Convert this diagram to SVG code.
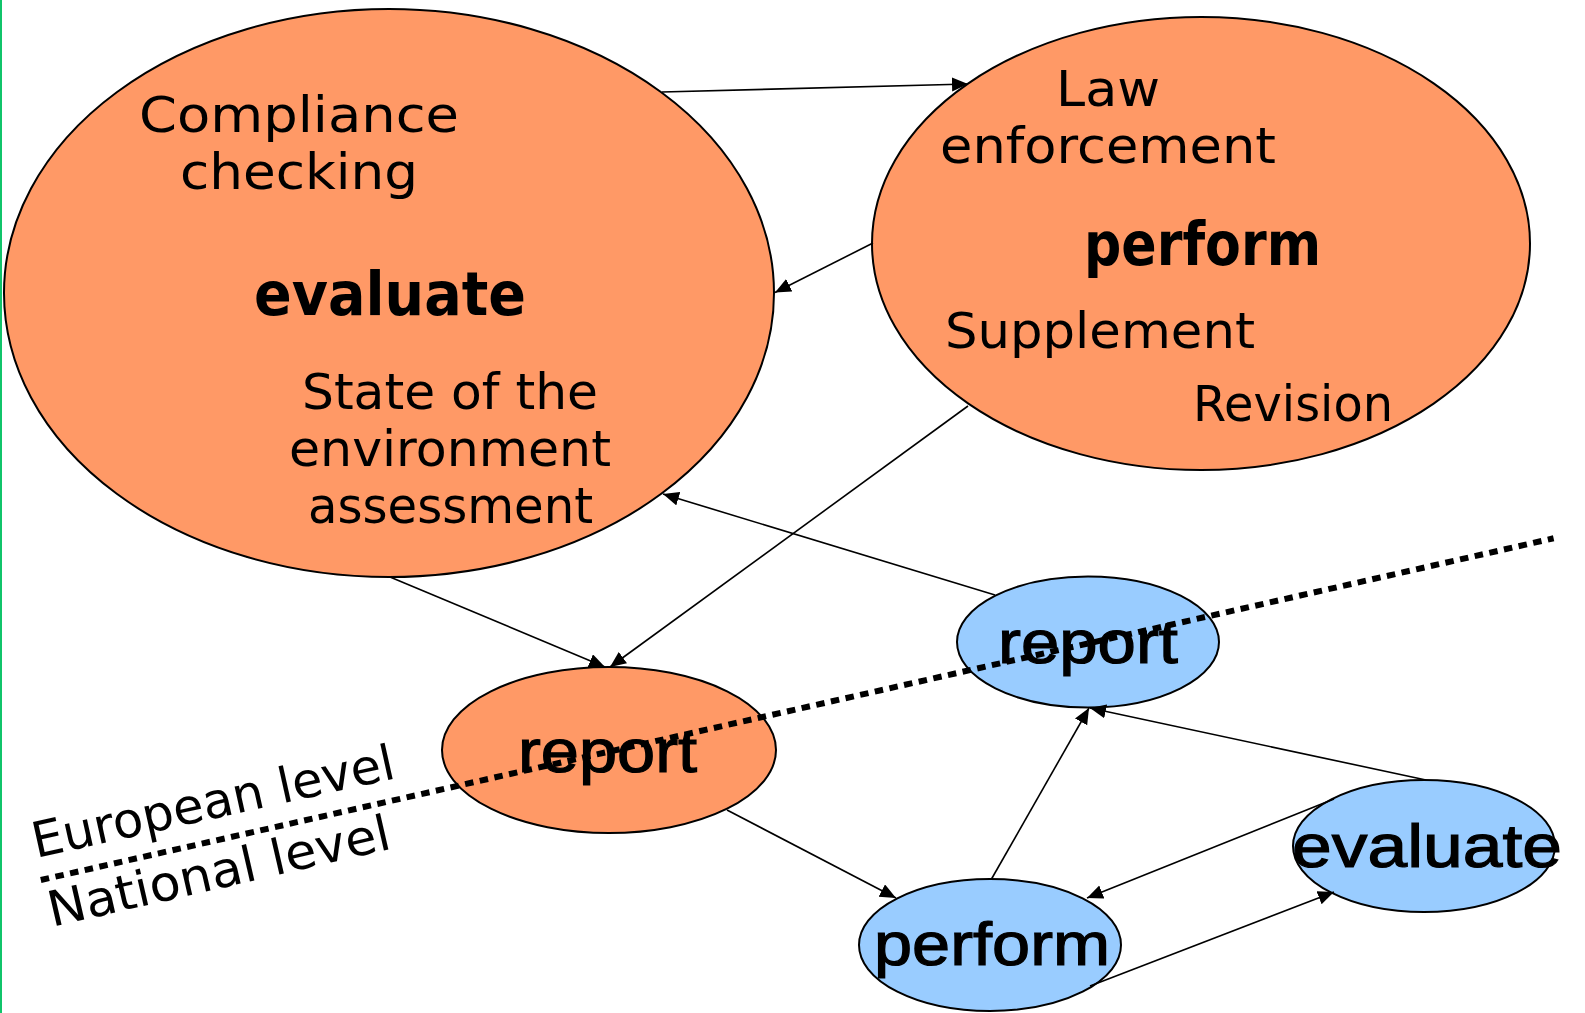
<svg xmlns="http://www.w3.org/2000/svg" width="1585" height="1013" viewBox="0 0 1585 1013">
<style>
.orange{fill:#FF9966;stroke:#000;stroke-width:2}
.blue{fill:#99CCFF;stroke:#000;stroke-width:2}
.lt{font-family:"DejaVu Sans","Liberation Sans",sans-serif;font-size:49px;fill:#000;font-weight:normal}
.bt{font-family:"DejaVu Sans","Liberation Sans",sans-serif;font-size:60px;fill:#000;font-weight:bold}
.at{font-family:"Liberation Sans",Arial,sans-serif;font-size:62px;fill:#000;stroke:#000;stroke-width:1.2}
.conn{stroke:#000;stroke-width:1.6;fill:none;marker-end:url(#ah)}
</style>
<defs>
<marker id="ah" markerUnits="userSpaceOnUse" markerWidth="18" markerHeight="15" refX="16" refY="7" orient="auto">
<path d="M0,0 L16,7 L0,14 z" fill="#000"/>
</marker>
</defs>
<rect x="0" y="0" width="1585" height="1013" fill="#fff"/>
<rect x="0" y="0" width="2" height="1013" fill="#10C46A"/>

<g id="n-evaluate-eu">
<ellipse class="orange" cx="389" cy="293" rx="385" ry="284"/>
<text class="lt" x="139" y="132" textLength="320" lengthAdjust="spacingAndGlyphs">Compliance</text>
<text class="lt" x="180" y="189" textLength="238" lengthAdjust="spacingAndGlyphs">checking</text>
<text class="bt" x="254" y="315" textLength="272" lengthAdjust="spacingAndGlyphs">evaluate</text>
<text class="lt" x="302" y="409" textLength="296" lengthAdjust="spacingAndGlyphs">State of the</text>
<text class="lt" x="289" y="466" textLength="322" lengthAdjust="spacingAndGlyphs">environment</text>
<text class="lt" x="308" y="523" textLength="285" lengthAdjust="spacingAndGlyphs">assessment</text>
</g>

<g id="n-perform-eu">
<ellipse class="orange" cx="1201" cy="243.5" rx="329" ry="226.5"/>
<text class="lt" x="1056" y="106" textLength="104" lengthAdjust="spacingAndGlyphs">Law</text>
<text class="lt" x="940" y="163" textLength="336" lengthAdjust="spacingAndGlyphs">enforcement</text>
<text class="bt" x="1084" y="265" textLength="237" lengthAdjust="spacingAndGlyphs">perform</text>
<text class="lt" x="945" y="348" textLength="310" lengthAdjust="spacingAndGlyphs">Supplement</text>
<text class="lt" x="1193" y="421" textLength="200" lengthAdjust="spacingAndGlyphs">Revision</text>
</g>

<g id="n-report-eu">
<ellipse class="orange" cx="609" cy="750" rx="167" ry="83"/>
</g>

<g id="n-report-nat">
<ellipse class="blue" cx="1088" cy="642" rx="131" ry="65.5"/>
</g>

<g id="n-evaluate-nat">
<ellipse class="blue" cx="1424" cy="846" rx="131" ry="66"/>
</g>

<g id="n-perform-nat">
<ellipse class="blue" cx="990" cy="945" rx="131" ry="66"/>
</g>

<g id="connectors">
<line class="conn" x1="662" y1="92" x2="968" y2="84"/>
<line class="conn" x1="873" y1="243" x2="775" y2="292.5"/>
<line class="conn" x1="968" y1="406" x2="610" y2="667"/>
<line class="conn" x1="390" y1="577" x2="605" y2="667"/>
<line class="conn" x1="995" y1="595" x2="663" y2="494"/>
<line class="conn" x1="727" y1="810" x2="896" y2="898"/>
<line class="conn" x1="991.5" y1="879" x2="1089" y2="708"/>
<line class="conn" x1="1426" y1="780" x2="1090" y2="708"/>
<line class="conn" x1="1334" y1="799" x2="1087" y2="898"/>
<line class="conn" x1="1090" y1="986" x2="1334" y2="892"/>
</g>

<g id="divider">
<line x1="40.8" y1="880" x2="1553.6" y2="538.3" stroke="#000" stroke-width="6" stroke-dasharray="8.5 6.5"/>
<text class="lt" x="36" y="858" textLength="370" lengthAdjust="spacingAndGlyphs" transform="rotate(-12.5 36 858)">European level</text>
<text class="lt" x="52" y="927" textLength="350" lengthAdjust="spacingAndGlyphs" transform="rotate(-13 52 927)">National level</text>
</g>

<g id="labels">
<text class="at" x="518" y="772" textLength="179" lengthAdjust="spacingAndGlyphs">report</text>
<text class="at" x="998" y="663" textLength="180" lengthAdjust="spacingAndGlyphs">report</text>
<text class="at" x="1292" y="867" textLength="270" lengthAdjust="spacingAndGlyphs" font-size="64">evaluate</text>
<text class="at" x="874" y="965" textLength="236" lengthAdjust="spacingAndGlyphs" font-size="64">perform</text>
</g>
</svg>
